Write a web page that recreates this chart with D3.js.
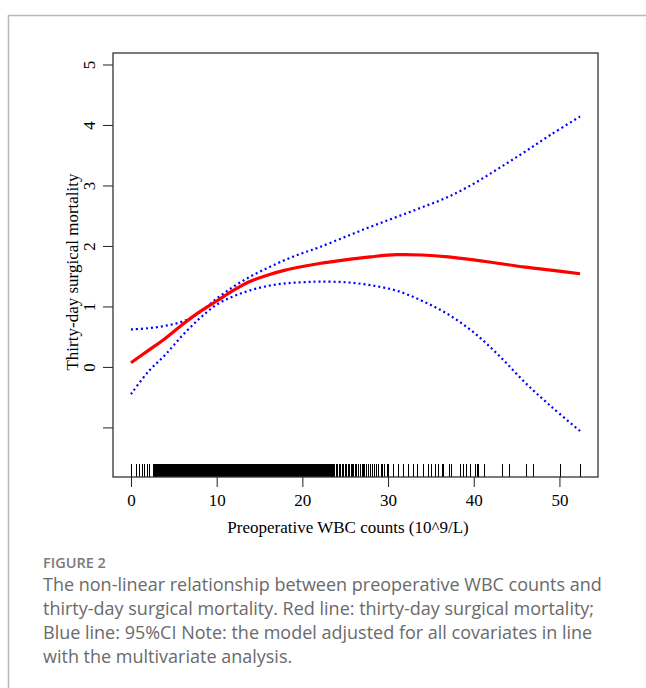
<!DOCTYPE html>
<html>
<head>
<meta charset="utf-8">
<script src="https://cdn.jsdelivr.net/npm/d3@7"></script>
<style>
  html, body { margin: 0; padding: 0; background: #fff; }
  svg { display: block; }
</style>
</head>
<body>
<script>
// WBC counts where the curves were sampled
const wbc = [0, 2, 4, 6, 8, 10, 12, 14, 16, 18, 20, 22, 25, 28, 31, 34, 37, 40, 43, 46, 49, 52.4];
const mortality = [0.07, 0.27, 0.47, 0.70, 0.91, 1.09, 1.27, 1.42, 1.52, 1.60, 1.66, 1.71, 1.77, 1.82, 1.855, 1.85, 1.82, 1.77, 1.71, 1.65, 1.60, 1.54];
const upperCI = [0.62, 0.64, 0.68, 0.75, 0.90, 1.13, 1.33, 1.50, 1.64, 1.77, 1.88, 1.98, 2.15, 2.32, 2.48, 2.64, 2.81, 3.03, 3.29, 3.56, 3.84, 4.14];
const lowerCI = [-0.45, -0.08, 0.20, 0.52, 0.80, 1.03, 1.17, 1.27, 1.34, 1.38, 1.40, 1.41, 1.40, 1.35, 1.26, 1.09, 0.87, 0.57, 0.18, -0.26, -0.65, -1.06];

// observed WBC counts (rug)
const rugValues = [
  0.1, 0.6, 1.05, 1.4, 1.6, 1.95, 2.2,
  2.6, 2.7, 2.8, 2.9,
  3.0, 3.1, 3.2, 3.3, 3.4, 3.5, 3.6, 3.7, 3.8, 3.9,
  4.0, 4.1, 4.2, 4.3, 4.4, 4.5, 4.6, 4.7, 4.8, 4.9,
  5.0, 5.1, 5.2, 5.3, 5.4, 5.5, 5.6, 5.7, 5.8, 5.9,
  6.0, 6.1, 6.2, 6.3, 6.4, 6.5, 6.6, 6.7, 6.8, 6.9,
  7.0, 7.1, 7.2, 7.3, 7.4, 7.5, 7.6, 7.7, 7.8, 7.9,
  8.0, 8.1, 8.2, 8.3, 8.4, 8.5, 8.6, 8.7, 8.8, 8.9,
  9.0, 9.1, 9.2, 9.3, 9.4, 9.5, 9.6, 9.7, 9.8, 9.9,
  10.0, 10.1, 10.2, 10.3, 10.4, 10.5, 10.6, 10.7, 10.8, 10.9,
  11.0, 11.1, 11.2, 11.3, 11.4, 11.5, 11.6, 11.7, 11.8, 11.9,
  12.0, 12.1, 12.2, 12.3, 12.4, 12.5, 12.6, 12.7, 12.8, 12.9,
  13.0, 13.1, 13.2, 13.3, 13.4, 13.5, 13.6, 13.7, 13.8, 13.9,
  14.0, 14.1, 14.2, 14.3, 14.4, 14.5, 14.6, 14.7, 14.8, 14.9,
  15.0, 15.1, 15.2, 15.3, 15.4, 15.5, 15.6, 15.7, 15.8, 15.9,
  16.0, 16.1, 16.2, 16.3, 16.4, 16.5, 16.6, 16.7, 16.8, 16.9,
  17.0, 17.1, 17.2, 17.3, 17.4, 17.5, 17.6, 17.7, 17.8, 17.9,
  18.0, 18.1, 18.2, 18.3, 18.4, 18.5, 18.6, 18.7, 18.8, 18.9,
  19.0, 19.1, 19.2, 19.3, 19.4, 19.5, 19.6, 19.7, 19.8, 19.9,
  20.0, 20.1, 20.2, 20.3, 20.4, 20.5, 20.6, 20.7, 20.8, 20.9,
  21.0, 21.1, 21.2, 21.3, 21.4, 21.5, 21.6, 21.7, 21.8, 21.9,
  22.0, 22.1, 22.2, 22.3, 22.4, 22.5, 22.6, 22.7, 22.8, 22.9,
  23.0, 23.1, 23.2, 23.3, 23.4, 23.5, 23.6, 23.7, 23.8,
  24.0, 24.1, 24.3, 24.4, 24.5, 24.7, 24.8, 25.0, 25.1, 25.2, 25.4, 25.5, 25.7, 25.8,
  26.0, 26.2, 26.3, 26.5, 26.6, 26.8, 27.0, 27.1, 27.3, 27.5, 27.7, 27.9,
  28.2, 28.4, 28.7, 28.9, 29.2, 29.4, 29.6, 29.9, 30.1,
  30.6, 31.2, 31.8, 32.4, 33.0, 33.4, 34.1, 34.7, 35.1, 35.5, 35.9, 36.3, 36.5,
  37.2, 37.4, 38.4, 38.8, 39.2, 39.6, 40.2, 40.4, 40.6, 41.2, 43.4, 44.2, 46.2, 47.0, 50.1, 52.4
];

const xTicks = [0, 10, 20, 30, 40, 50];
const yTicks = [-1, 0, 1, 2, 3, 4, 5];
const yTickLabels = ["", "0", "1", "2", "3", "4", "5"];

const xTitle = "Preoperative WBC counts (10^9/L)";
const yTitle = "Thirty-day surgical mortality";
const figLabel = "FIGURE 2";
const captionLines = [
  "The non-linear relationship between preoperative WBC counts and",
  "thirty-day surgical mortality. Red line: thirty-day surgical mortality;",
  "Blue line: 95%CI Note: the model adjusted for all covariates in line",
  "with the multivariate analysis."
];

const W = 646, H = 688;
const plot = { left: 113, right: 598, top: 53, bottom: 477 };
const serif = "'Liberation Serif', 'Times New Roman', serif";
const sans = "'Open Sans', sans-serif";

const svg = d3.select("body")
    .append("svg")
    .attr("width", W)
    .attr("height", H);

// card border (left + top)
svg.append("path")
    .attr("d", `M8.5,${H} V15.5 H${W}`)
    .attr("fill", "none")
    .attr("stroke", "#b8b8b8")
    .attr("stroke-width", 1.5);

const x = d3.scaleLinear()
    .domain([-2.1, 54.5])
    .range([plot.left, plot.right]);

const y = d3.scaleLinear()
    .domain([-1.82, 5.19])
    .range([plot.bottom, plot.top]);

// x axis
const gx = svg.append("g")
    .attr("transform", `translate(0,${plot.bottom})`)
    .call(d3.axisBottom(x).tickValues(xTicks).tickSize(10).tickFormat(d3.format("d")));
gx.select(".domain").remove();
gx.selectAll("line").attr("stroke", "#222");
gx.selectAll("text")
    .attr("y", 29)
    .attr("dy", null)
    .attr("fill", "#000")
    .style("font-family", serif)
    .style("font-size", "17px");

// y axis, labels turned like R's default las=0
const gy = svg.append("g")
    .attr("transform", `translate(${plot.left},0)`)
    .call(d3.axisLeft(y).tickValues(yTicks).tickSize(10)
        .tickFormat((d, i) => yTickLabels[i]));
gy.select(".domain").remove();
gy.selectAll("line").attr("stroke", "#222");
gy.selectAll("text")
    .attr("x", 0)
    .attr("y", -18)
    .attr("dy", null)
    .attr("transform", "rotate(-90)")
    .attr("text-anchor", "middle")
    .attr("fill", "#000")
    .style("font-family", serif)
    .style("font-size", "17px");

// rug
svg.append("g")
    .attr("shape-rendering", "crispEdges")
    .selectAll("line")
    .data(rugValues)
    .enter()
    .append("line")
    .attr("x1", d => x(d))
    .attr("x2", d => x(d))
    .attr("y1", plot.bottom - 13)
    .attr("y2", plot.bottom)
    .attr("stroke", "#000")
    .attr("stroke-width", 1);

const line = d3.line()
    .x(d => x(d[0]))
    .y(d => y(d[1]))
    .curve(d3.curveCatmullRom);

const zip = vals => wbc.map((w, i) => [w, vals[i]]);

[upperCI, lowerCI].forEach(vals => {
    svg.append("path")
        .datum(zip(vals))
        .attr("fill", "none")
        .attr("stroke", "#0000ff")
        .attr("stroke-width", 2.2)
        .attr("stroke-dasharray", "2,3")
        .attr("d", line);
});

svg.append("path")
    .datum(zip(mortality))
    .attr("fill", "none")
    .attr("stroke", "#ff0000")
    .attr("stroke-width", 3.2)
    .attr("d", line);

// plot box
svg.append("rect")
    .attr("x", plot.left)
    .attr("y", plot.top)
    .attr("width", plot.right - plot.left)
    .attr("height", plot.bottom - plot.top)
    .attr("fill", "none")
    .attr("stroke", "#333")
    .attr("stroke-width", 1.3);

// axis titles
svg.append("text")
    .attr("x", 348)
    .attr("y", 533)
    .attr("text-anchor", "middle")
    .style("font-family", serif)
    .style("font-size", "17px")
    .text(xTitle);

svg.append("text")
    .attr("transform", "translate(78,272) rotate(-90)")
    .attr("text-anchor", "middle")
    .style("font-family", serif)
    .style("font-size", "17px")
    .text(yTitle);

// caption
svg.append("text")
    .attr("x", 43)
    .attr("y", 567.5)
    .style("font-family", sans)
    .style("font-size", "14.5px")
    .style("font-weight", 600)
    .attr("fill", "#7a7a7a")
    .text(figLabel);

svg.append("g")
    .selectAll("text")
    .data(captionLines)
    .enter()
    .append("text")
    .attr("x", 43)
    .attr("y", (d, i) => 591 + i * 24)
    .style("font-family", sans)
    .style("font-size", "18px")
    .attr("fill", "#6a6a6a")
    .text(d => d);
</script>
</body>
</html>
